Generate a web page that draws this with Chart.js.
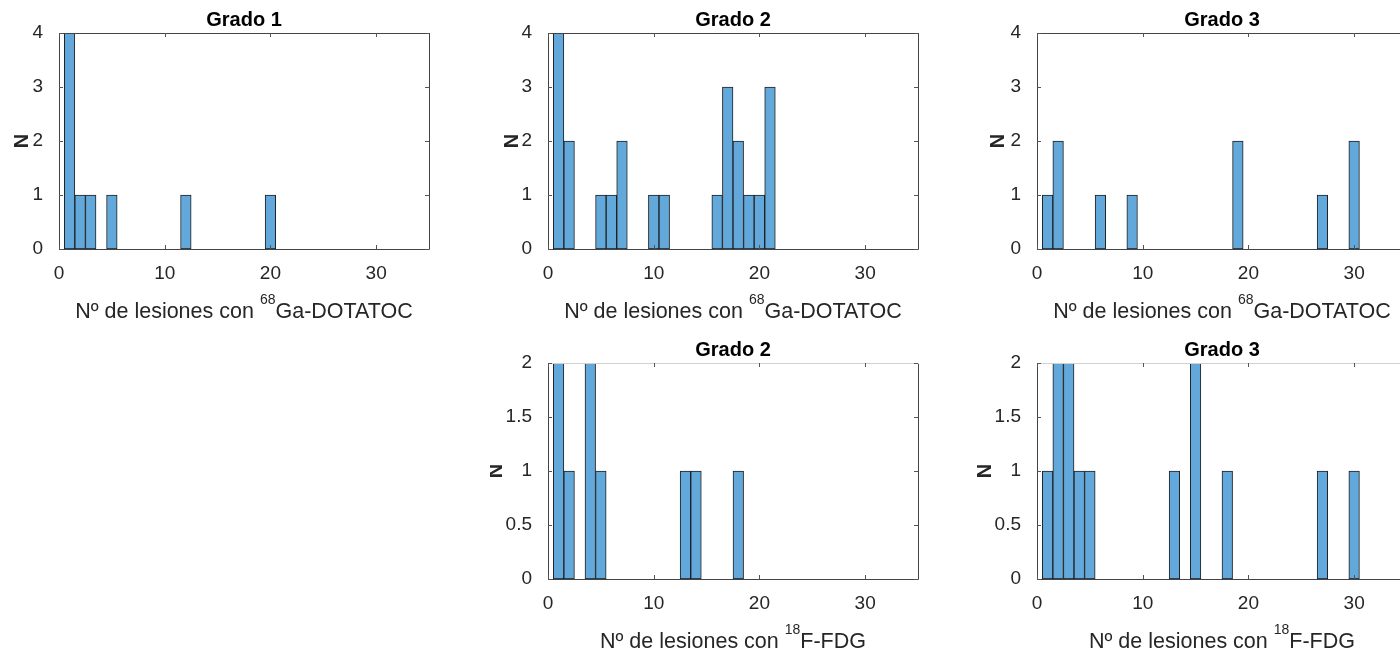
<!DOCTYPE html>
<html>
<head>
<meta charset="utf-8">
<script src="https://cdn.jsdelivr.net/npm/chart.js@4.4.1/dist/chart.umd.min.js"></script>
<style>
  html, body { margin: 0; padding: 0; background: #fff; overflow: hidden; }
  #wrap { position: relative; width: 1400px; height: 655px; overflow: hidden; }
  canvas { position: absolute; }
</style>
</head>
<body>
<div id="wrap">
  <canvas id="g1ga" width="450" height="330" style="left:0px;top:0px"></canvas>
  <canvas id="g2ga" width="450" height="330" style="left:490px;top:0px"></canvas>
  <canvas id="g3ga" width="450" height="330" style="left:970px;top:0px"></canvas>
  <canvas id="g2fdg" width="450" height="330" style="left:490px;top:330px"></canvas>
  <canvas id="g3fdg" width="450" height="330" style="left:970px;top:330px"></canvas>
</div>
<script>
"use strict";
// Histogram bins (centre of each 1-wide bin) and counts
const binsG1Ga = [1, 2, 3, 5, 12, 20];
const countsG1Ga = [4, 1, 1, 1, 1, 1];

const binsG2Ga = [1, 2, 5, 6, 7, 10, 11, 16, 17, 18, 19, 20, 21];
const countsG2Ga = [4, 2, 1, 1, 2, 1, 1, 1, 3, 2, 1, 1, 3];

const binsG3Ga = [1, 2, 6, 9, 19, 27, 30];
const countsG3Ga = [1, 2, 1, 1, 2, 1, 2];

const binsG2Fdg = [1, 2, 4, 5, 13, 14, 18];
const countsG2Fdg = [2, 1, 2, 1, 1, 1, 1];

const binsG3Fdg = [1, 2, 3, 4, 5, 13, 15, 18, 27, 30];
const countsG3Fdg = [1, 2, 2, 1, 1, 1, 2, 1, 1, 1];

const xMin = 0, xMax = 35, xStep = 10;
const yMaxGa = 4, yStepGa = 1;
const yMaxFdg = 2, yStepFdg = 0.5;

const FONT = "'Liberation Sans', Arial, Helvetica, sans-serif";
const TXT = '#262626';
const BAR_FILL = '#62a8da';
const BAR_EDGE = '#1f1f1f';

// draws the axes box, inward ticks, title, N label and x label (with superscript)
const matlabAxes = {
    id: 'matlabAxes',
    afterDraw(chart, args, o) {
        const ctx = chart.ctx;
        const a = chart.chartArea;
        const xs = chart.scales.x, ys = chart.scales.y;
        ctx.save();
        // box
        ctx.lineWidth = 1;
        ctx.strokeStyle = '#444';
        ctx.beginPath();
        ctx.moveTo(a.left + 0.5, a.top);
        ctx.lineTo(a.left + 0.5, a.bottom + 0.5);
        ctx.lineTo(a.right + 0.5, a.bottom + 0.5);
        ctx.lineTo(a.right + 0.5, a.top);
        ctx.stroke();
        ctx.strokeStyle = o.topColor;
        ctx.beginPath();
        ctx.moveTo(a.left, a.top + 0.5);
        ctx.lineTo(a.right + 1, a.top + 0.5);
        ctx.stroke();
        // inward ticks
        ctx.strokeStyle = '#555';
        ctx.beginPath();
        xs.ticks.forEach(t => {
            const px = Math.round(xs.getPixelForValue(t.value)) + 0.5;
            ctx.moveTo(px, a.bottom); ctx.lineTo(px, a.bottom - 4);
            ctx.moveTo(px, a.top); ctx.lineTo(px, a.top + 4);
        });
        ys.ticks.forEach(t => {
            const py = Math.round(ys.getPixelForValue(t.value)) + 0.5;
            ctx.moveTo(a.left, py); ctx.lineTo(a.left + 4, py);
            ctx.moveTo(a.right, py); ctx.lineTo(a.right - 4, py);
        });
        ctx.stroke();
        // title
        const cx = (a.left + a.right) / 2;
        ctx.fillStyle = '#000';
        ctx.font = 'bold 20px ' + FONT;
        ctx.textAlign = 'center';
        ctx.textBaseline = 'alphabetic';
        ctx.fillText(o.title, cx, a.top - 7);
        // y label
        ctx.save();
        ctx.translate(a.left - o.nOffset, (a.top + a.bottom) / 2);
        ctx.rotate(-Math.PI / 2);
        ctx.fillStyle = TXT;
        ctx.textBaseline = 'middle';
        ctx.fillText('N', 0, 0);
        ctx.restore();
        // x label with superscript
        const mainFont = '21.5px ' + FONT, supFont = '14px ' + FONT;
        ctx.font = mainFont;
        const w1 = ctx.measureText(o.xPre).width;
        const w3 = ctx.measureText(o.xPost).width;
        ctx.font = supFont;
        const w2 = ctx.measureText(o.xSup).width;
        let x0 = cx - (w1 + w2 + w3) / 2;
        const base = a.bottom + 69;
        ctx.textAlign = 'left';
        ctx.fillStyle = TXT;
        ctx.font = mainFont;
        ctx.fillText(o.xPre, x0, base);
        ctx.font = supFont;
        ctx.fillText(o.xSup, x0 + w1, base - 14);
        ctx.font = mainFont;
        ctx.fillText(o.xPost, x0 + w1 + w2, base);
        ctx.restore();
    }
};

function makeHist(id, bins, counts, yMax, yStep, left, opts) {
    const top = 33, bottom = 249, plotW = 370, canvasW = 450, canvasH = 330;
    new Chart(document.getElementById(id), {
        type: 'bar',
        data: {
            datasets: [{
                data: bins.map((b, i) => ({ x: b, y: counts[i] })),
                backgroundColor: BAR_FILL,
                borderColor: BAR_EDGE,
                borderWidth: 1,
                borderSkipped: false,
                barPercentage: 1,
                categoryPercentage: 1
            }]
        },
        options: {
            responsive: false,
            animation: false,
            events: [],
            layout: {
                padding: { left: 0, top: top, right: canvasW - left - plotW, bottom: canvasH - bottom - 40 }
            },
            plugins: {
                legend: { display: false },
                tooltip: { enabled: false },
                title: { display: false },
                matlabAxes: opts
            },
            scales: {
                x: {
                    type: 'linear',
                    min: xMin,
                    max: xMax,
                    offset: false,
                    grid: { display: false },
                    border: { display: false },
                    ticks: { stepSize: xStep, color: TXT, padding: 5, font: { family: FONT, size: 19 }, maxRotation: 0 },
                    afterBuildTicks: s => { s.ticks = s.ticks.filter(t => t.value % xStep === 0); },
                    afterFit: s => { s.height = 40; }
                },
                y: {
                    min: 0,
                    max: yMax,
                    grid: { display: false },
                    border: { display: false },
                    ticks: { stepSize: yStep, color: TXT, padding: 8, font: { family: FONT, size: 19 }, callback: v => String(v) },
                    afterFit: s => { s.width = left; }
                }
            }
        },
        plugins: [matlabAxes]
    });
}

const gaLabel = { xPre: 'N\u00ba de lesiones con ', xSup: '68', xPost: 'Ga-DOTATOC' };
const fdgLabel = { xPre: 'N\u00ba de lesiones con ', xSup: '18', xPost: 'F-FDG' };

makeHist('g1ga', binsG1Ga, countsG1Ga, yMaxGa, yStepGa, 59,
    Object.assign({ title: 'Grado 1', nOffset: 37, topColor: '#444' }, gaLabel));
makeHist('g2ga', binsG2Ga, countsG2Ga, yMaxGa, yStepGa, 58,
    Object.assign({ title: 'Grado 2', nOffset: 36, topColor: '#444' }, gaLabel));
makeHist('g3ga', binsG3Ga, countsG3Ga, yMaxGa, yStepGa, 67,
    Object.assign({ title: 'Grado 3', nOffset: 39, topColor: '#444' }, gaLabel));
makeHist('g2fdg', binsG2Fdg, countsG2Fdg, yMaxFdg, yStepFdg, 58,
    Object.assign({ title: 'Grado 2', nOffset: 52, topColor: '#d0d0d0' }, fdgLabel));
makeHist('g3fdg', binsG3Fdg, countsG3Fdg, yMaxFdg, yStepFdg, 67,
    Object.assign({ title: 'Grado 3', nOffset: 52, topColor: '#d0d0d0' }, fdgLabel));
</script>
</body>
</html>
